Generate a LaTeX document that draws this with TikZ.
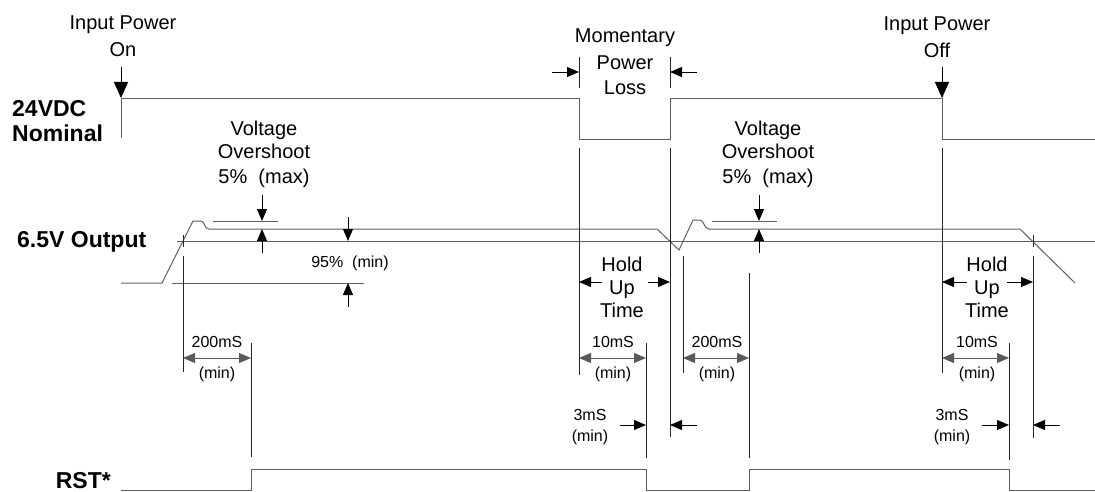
\documentclass[tikz,border=0pt]{standalone}
\usepackage{fontspec}
\setmainfont{Liberation Sans}
\usetikzlibrary{arrows.meta}
\begin{document}
\begin{tikzpicture}[x=1pt,y=-1pt,
  lbl/.style={inner sep=0pt,anchor=base,font=\fontsize{20}{24}\selectfont},
  sml/.style={inner sep=0pt,anchor=base,font=\fontsize{16}{19}\selectfont},
  bld/.style={inner sep=0pt,anchor=base west,font=\fontsize{23}{27}\selectfont\bfseries},
  wave/.style={line width=1pt,draw={rgb,255:red,95;green,95;blue,95},line join=miter},
  ext/.style={line width=0.9pt,draw=black!85},
  dimarr/.style={line width=0.9pt,-{Triangle[length=12pt,width=10pt]}},
  dimboth/.style={line width=0.9pt,draw={rgb,255:red,90;green,90;blue,90},{Triangle[length=12pt,width=10pt]}-{Triangle[length=12pt,width=10pt]}},
  bigarr/.style={line width=0.9pt,-{Triangle[length=16pt,width=14pt]}}]
\useasboundingbox (0,0) rectangle (1095,492);

% ---------- labels ----------
\node[lbl] (ip1) at (123,30) {Input Power};
\node[lbl] (on)  at (123,57) {On};
\node[lbl] (ip2) at (937,31) {Input Power};
\node[lbl] (off) at (937,58) {Off};
\node[lbl] (mom) at (625,43) {Momentary};
\node[lbl] (pw)  at (625,70) {Power};
\node[lbl] (loss) at (625,95) {Loss};
\node[bld] (v24) at (12,117) {24VDC};
\node[bld] (nom) at (12,142) {Nominal};
\node[bld] (out) at (17,247) {6.5V Output};
\node[bld,anchor=base east] (rst) at (111,488) {RST*};

\node[lbl] (vo1a) at (264,136) {Voltage};
\node[lbl] (vo1b) at (264,159) {Overshoot};
\node[lbl] (vo1c) at (264,183) {5\%\ \ (max)};
\node[lbl] (vo2a) at (768,136) {Voltage};
\node[lbl] (vo2b) at (768,159) {Overshoot};
\node[lbl] (vo2c) at (768,183) {5\%\ \ (max)};
\node[sml] (p95) at (350,267) {95\%\ \ (min)};

\node[lbl] (h1a) at (622,271) {Hold};
\node[lbl] (h1b) at (622,294) {Up};
\node[lbl] (h1c) at (622,317) {Time};
\node[lbl] (h2a) at (987,271) {Hold};
\node[lbl] (h2b) at (987,294) {Up};
\node[lbl] (h2c) at (987,317) {Time};

\node[sml] (t200a) at (217,347) {200mS};
\node[sml] (m200a) at (217,378) {(min)};
\node[sml] (t200b) at (717,347) {200mS};
\node[sml] (m200b) at (717,378) {(min)};
\node[sml] (t10a) at (613,347) {10mS};
\node[sml] (m10a) at (613,378) {(min)};
\node[sml] (t10b) at (977,347) {10mS};
\node[sml] (m10b) at (977,378) {(min)};
\node[sml] (t3a) at (590,420) {3mS};
\node[sml] (m3a) at (590,441) {(min)};
\node[sml] (t3b) at (952,420) {3mS};
\node[sml] (m3b) at (952,441) {(min)};

% ---------- 24VDC waveform ----------
\draw[wave] (121,138) -- (121,99) -- (579,99) -- (579,140) -- (670,140) -- (670,99)
  -- (942,99) -- (942,140) -- (1095,140);

% ---------- 6.5V output waveform ----------
\draw[wave] (121,283) -- (162,283) -- (193,221) -- (201,221)
  .. controls (205,221) and (204,229) .. (209,229) -- (657,229) -- (679,250)
  -- (693,220) -- (700,220) .. controls (704,220) and (704,229) .. (709,229)
  -- (1020,229) -- (1075,283);
\draw[wave] (177,241) -- (1095,241);
\draw[wave] (213,221) -- (278,221);
\draw[wave] (712,221) -- (777,221);
\draw[wave] (172,283) -- (364,283);
\draw[ext] (183,235) -- (183,247);
\draw[ext] (1033,235) -- (1033,247);

% ---------- RST* waveform ----------
\draw[wave] (121,490) -- (251,490) -- (251,469) -- (646,469) -- (646,490) -- (749,490)
  -- (749,469) -- (1009,469) -- (1009,490) -- (1095,490);

% ---------- extension lines ----------
\draw[ext] (183,256) -- (183,372);
\draw[ext] (251,343) -- (251,457);
\draw[ext] (579,148) -- (579,375);
\draw[ext] (646,343) -- (646,458);
\draw[ext] (670,148) -- (670,437);
\draw[ext] (683,256) -- (683,373);
\draw[ext] (749,273) -- (749,458);
\draw[ext] (942,148) -- (942,373);
\draw[ext] (1009,343) -- (1009,460);
\draw[ext] (1033,256) -- (1033,438);
\draw[ext] (579,57) -- (579,88);
\draw[ext] (670,57) -- (670,88);

% ---------- arrows ----------
\draw[bigarr] (121,67) -- (121,98);
\draw[bigarr] (942,67) -- (942,98);
\draw[dimarr] (552,72) -- (579,72);
\draw[dimarr] (697,72) -- (670,72);

\draw[dimarr] (262,195) -- (262,221);
\draw[dimarr] (262,253) -- (262,229);
\draw[dimarr] (759,195) -- (759,221);
\draw[dimarr] (759,253) -- (759,229);
\draw[dimarr] (348,217) -- (348,241);
\draw[dimarr] (348,307) -- (348,283);

\draw[dimarr] (602,282) -- (579,282);
\draw[dimarr] (648,282) -- (670,282);
\draw[dimarr] (967,282) -- (942,282);
\draw[dimarr] (1007,282) -- (1033,282);

\draw[dimboth] (183,358) -- (251,358);
\draw[dimboth] (683,358) -- (749,358);
\draw[dimboth] (579,358) -- (646,358);
\draw[dimboth] (942,358) -- (1009,358);

\draw[dimarr] (620,425) -- (646,425);
\draw[dimarr] (697,425) -- (670,425);
\draw[dimarr] (982,425) -- (1009,425);
\draw[dimarr] (1060,425) -- (1033,425);
\end{tikzpicture}
\end{document}
